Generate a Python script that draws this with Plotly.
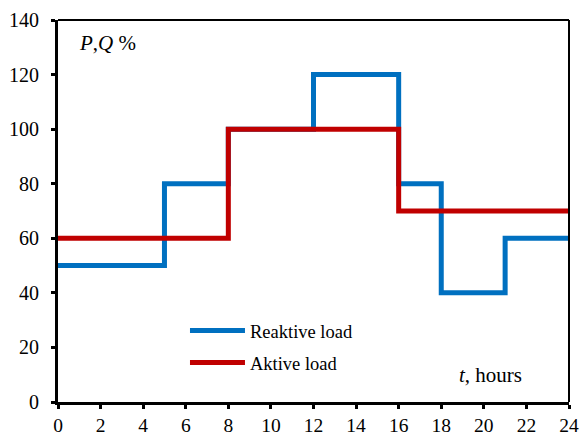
import plotly.graph_objects as go

hours_reactive = [0, 5, 8, 12, 16, 18, 21, 24]
reactive_load = [50, 80, 100, 120, 80, 40, 60, 60]
hours_active = [0, 8, 16, 24]
active_load = [60, 100, 70, 70]
x_ticks = list(range(0, 25, 2))
y_ticks = list(range(0, 141, 20))

FAM = "Liberation Serif"
tick_font = dict(family=FAM, size=20, color="black")
xtick_font = dict(family=FAM, size=19.5, color="black")
leg_font = dict(family=FAM, size=18.5, color="black")
ann_font = dict(family=FAM, size=21, color="black")

fig = go.Figure()
fig.add_trace(go.Scatter(x=hours_reactive, y=reactive_load, mode="lines",
                         line=dict(shape="hv", color="#0070C0", width=5),
                         name="Reaktive load", legend="legend"))
fig.add_trace(go.Scatter(x=hours_active, y=active_load, mode="lines",
                         line=dict(shape="hv", color="#C00000", width=5),
                         name="Aktive load", legend="legend2"))

fig.update_layout(
    width=581, height=436,
    margin=dict(l=58, r=12, t=20, b=34, autoexpand=False),
    paper_bgcolor="white", plot_bgcolor="white",
    font=tick_font,
    showlegend=True,
    legend=dict(x=0.2485, y=0.186, xanchor="left", yanchor="middle", itemwidth=55,
                bgcolor="rgba(0,0,0,0)", font=leg_font),
    legend2=dict(x=0.2485, y=0.102, xanchor="left", yanchor="middle", itemwidth=55,
                 bgcolor="rgba(0,0,0,0)", font=leg_font),
    xaxis=dict(range=[0, 24], tickvals=x_ticks, showgrid=False, zeroline=False,
               showline=True, linecolor="black", linewidth=3, automargin=False,
               tickfont=xtick_font,
               ticks="outside", ticklen=4, tickwidth=3, tickcolor="black"),
    yaxis=dict(range=[0, 140], tickvals=y_ticks, showgrid=False, zeroline=False,
               showline=True, linecolor="black", linewidth=3, automargin=False,
               tickfont=tick_font, ticklabelstandoff=8,
               ticks="outside", ticklen=4, tickwidth=3, tickcolor="black"),
    shapes=[
        dict(type="line", xref="paper", yref="paper", x0=0, x1=1, y0=1, y1=1,
             line=dict(color="black", width=2)),
        dict(type="line", xref="paper", yref="paper", x0=1, x1=1, y0=0, y1=1,
             line=dict(color="black", width=2)),
    ],
    annotations=[
        dict(text="<i>P</i>,<i>Q</i> %", xref="paper", yref="paper", x=0.037, y=0.94,
             xanchor="left", yanchor="middle", showarrow=False, font=ann_font),
        dict(text="<i>t</i>, hours", xref="paper", yref="paper", x=0.912, y=0.0707,
             xanchor="right", yanchor="middle", showarrow=False, font=ann_font),
    ],
)
fig.write_html("out.html", config={"displayModeBar": False},
               post_script="document.body.style.margin='0';document.body.style.overflow='hidden';")
